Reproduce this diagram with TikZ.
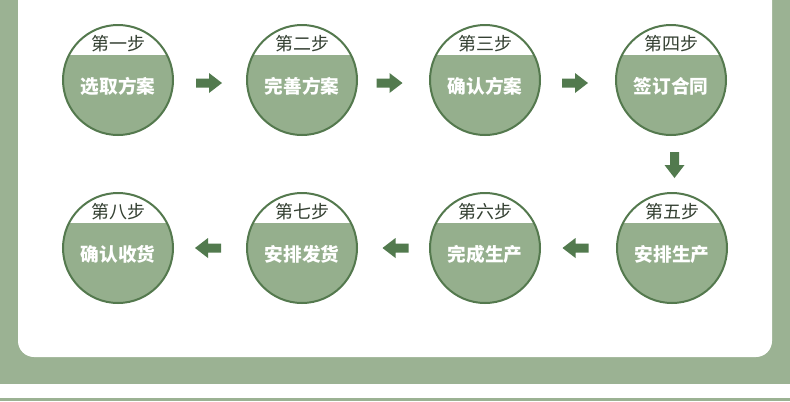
\documentclass[tikz,border=0pt]{standalone}
\usepackage{fontspec}
\newfontfamily\cjk{Noto Sans CJK SC}
\usetikzlibrary{calc}

\definecolor{bggreen}{RGB}{155,178,147}
\definecolor{circlegreen}{RGB}{149,175,141}
\definecolor{ringgreen}{RGB}{84,121,78}
\definecolor{arrowgreen}{RGB}{82,122,78}
\definecolor{labeltext}{RGB}{52,64,50}

\tikzset{
  stepcircle/.style={circle,draw=ringgreen,line width=1.5pt,fill=white,
    minimum size=82.5pt,inner sep=0pt,
    path picture={\fill[circlegreen] ([yshift=-22.5pt]path picture bounding box.north west)
      rectangle (path picture bounding box.south east);}},
  steplabel/.style={font=\cjk\fontsize{13.5}{15}\selectfont,text=labeltext,inner sep=0pt},
  stepname/.style={font=\cjk\bfseries\fontsize{14}{16}\selectfont,text=white,inner sep=0pt},
  blockarrow/.pic={\fill[arrowgreen] (-13,-4.5) -- (0,-4.5) -- (0,-10) -- (13,0)
      -- (0,10) -- (0,4.5) -- (-13,4.5) -- cycle;}
}

\newcommand\stepnode[4]{%
  \node[stepcircle] (#1) at #2 {};
  \node[steplabel] (#1-top) at ($(#1)+(0,-36)$) {#3};
  \node[stepname] (#1-name) at ($(#1)+(0,6)$) {#4};
}

\begin{document}
\begin{tikzpicture}[x=0.75pt,y=-0.75pt]
\useasboundingbox (0,0) rectangle (790,401);
% background
\fill[bggreen] (0,0) rectangle (790,401);
\fill[white,rounded corners=12pt] (18,-30) rectangle (772,357);
\fill[white] (0,384) rectangle (790,398);

% steps
\stepnode{s1}{(118,80)}{第一步}{选取方案}
\stepnode{s2}{(302,80)}{第二步}{完善方案}
\stepnode{s3}{(485,80)}{第三步}{确认方案}
\stepnode{s4}{(671,80)}{第四步}{签订合同}
\stepnode{s5}{(672,248)}{第五步}{安排生产}
\stepnode{s6}{(485,248)}{第六步}{完成生产}
\stepnode{s7}{(302,248)}{第七步}{安排发货}
\stepnode{s8}{(118,248)}{第八步}{确认收货}

% arrows
\pic at ($(s1)!0.5!(s2)+(-1,3)$) {blockarrow};
\pic at ($(s2)!0.5!(s3)+(-4,3)$) {blockarrow};
\pic at ($(s3)!0.5!(s4)+(-3,3)$) {blockarrow};
\pic[rotate=-90] at ($(s4)!0.5!(s5)+(3,1)$) {blockarrow};
\pic[rotate=180] at ($(s5)!0.5!(s6)+(-3,0)$) {blockarrow};
\pic[rotate=180] at ($(s6)!0.5!(s7)+(2,0)$) {blockarrow};
\pic[rotate=180] at ($(s7)!0.5!(s8)+(-2,0)$) {blockarrow};
\end{tikzpicture}
\end{document}
